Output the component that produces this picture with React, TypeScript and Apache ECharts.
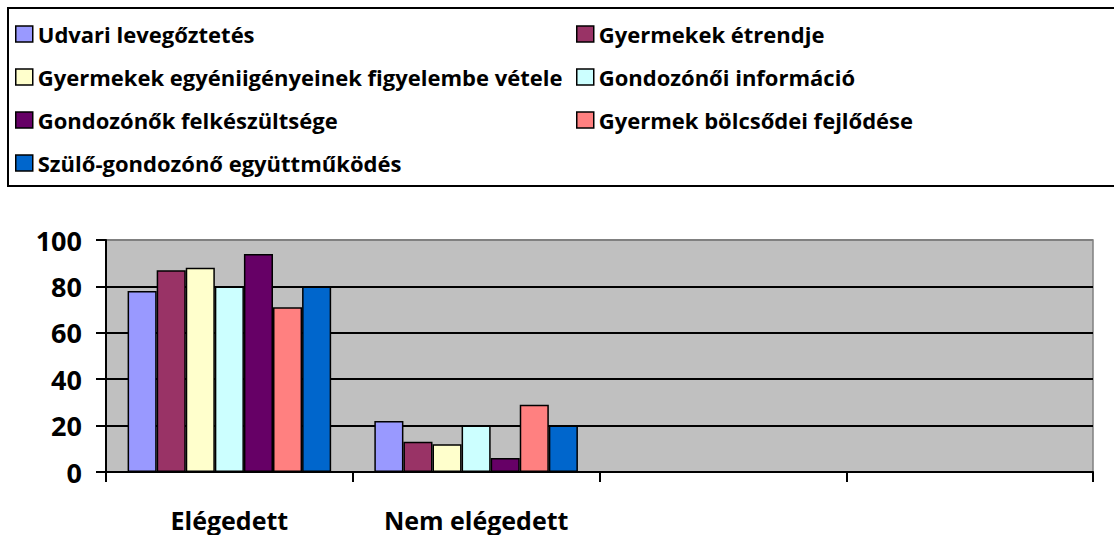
import React, { useEffect, useRef } from "react";
import * as echarts from "echarts";

const categories = ["Elégedett", "Nem elégedett", "", ""];
const seriesNames = [
  "Udvari levegőztetés",
  "Gyermekek étrendje",
  "Gyermekek egyéniigényeinek figyelembe vétele",
  "Gondozónői információ",
  "Gondozónők felkészültsége",
  "Gyermek bölcsődei fejlődése",
  "Szülő-gondozónő együttműködés",
];
const seriesColors = ["#9999FF", "#993366", "#FFFFCC", "#CCFFFF", "#660066", "#FF8080", "#0066CC"];
const udvari = [78, 22, null, null];
const etrend = [87, 13, null, null];
const egyeni = [88, 12, null, null];
const info = [80, 20, null, null];
const felkesz = [94, 6, null, null];
const fejlodes = [71, 29, null, null];
const egyutt = [80, 20, null, null];
const seriesValues = [udvari, etrend, egyeni, info, felkesz, fejlodes, egyutt];
const yTicks = [0, 20, 40, 60, 80, 100];

const FONT = "'Open Sans', 'DejaVu Sans', sans-serif";

export default function App() {
  const ref = useRef<HTMLDivElement>(null);
  useEffect(() => {
    document.body.style.margin = "0";
    const chart = echarts.init(ref.current!, null, { renderer: "svg" });
    const legendCommon = {
      orient: "vertical" as const,
      padding: 0,
      itemWidth: 17,
      itemHeight: 16,
      itemGap: 19,
      icon: "rect",
      itemStyle: { borderColor: "#000", borderWidth: 1.5 },
      textStyle: { fontFamily: FONT, fontWeight: "bold" as const, fontSize: 22, color: "#000", lineHeight: 24 },
      selectedMode: false,
    };
    chart.setOption({
      animation: false,
      backgroundColor: "#fff",
      textStyle: { fontFamily: FONT },
      legend: [
        { ...legendCommon, left: 15, top: 22, data: [seriesNames[0], seriesNames[2], seriesNames[4], seriesNames[6]] },
        { ...legendCommon, left: 576, top: 22, data: [seriesNames[1], seriesNames[3], seriesNames[5]] },
      ],
      graphic: [
        {
          type: "rect",
          shape: { x: 8, y: 8, width: 1130, height: 178 },
          style: { fill: "none", stroke: "#000", lineWidth: 2 },
          silent: true,
        },
      ],
      grid: {
        left: 106,
        right: 21,
        top: 240,
        bottom: 63,
        show: true,
        backgroundColor: "#C0C0C0",
        borderColor: "#808080",
        borderWidth: 1.5,
      },
      xAxis: {
        type: "category",
        data: categories,
        boundaryGap: true,
        axisLine: { lineStyle: { color: "#000", width: 2 } },
        axisTick: { show: true, length: 10, lineStyle: { color: "#000", width: 2 } },
        axisLabel: { fontFamily: FONT, fontWeight: "bold", fontSize: 25, color: "#000", margin: 35 },
        splitLine: { show: false },
      },
      yAxis: {
        type: "value",
        min: yTicks[0],
        max: yTicks[yTicks.length - 1],
        interval: 20,
        axisLine: { show: true, lineStyle: { color: "#000", width: 2 } },
        axisTick: { show: true, length: 10, lineStyle: { color: "#000", width: 2 } },
        axisLabel: { fontFamily: FONT, fontWeight: "bold", fontSize: 27, color: "#000", margin: 24 },
        splitLine: {
          show: true,
          lineStyle: { color: ["#000", "#000", "#000", "#000", "#000", "#808080"], width: 2 },
        },
      },
      series: seriesNames.map((name, i) => ({
        name,
        type: "bar",
        data: seriesValues[i],
        barGap: "0%",
        barCategoryGap: "17.5%",
        itemStyle: { color: seriesColors[i], borderColor: "#000", borderWidth: 1.5 },
      })),
    });
    return () => chart.dispose();
  }, []);
  return <div ref={ref} style={{ width: 1114, height: 535 }} />;
}
